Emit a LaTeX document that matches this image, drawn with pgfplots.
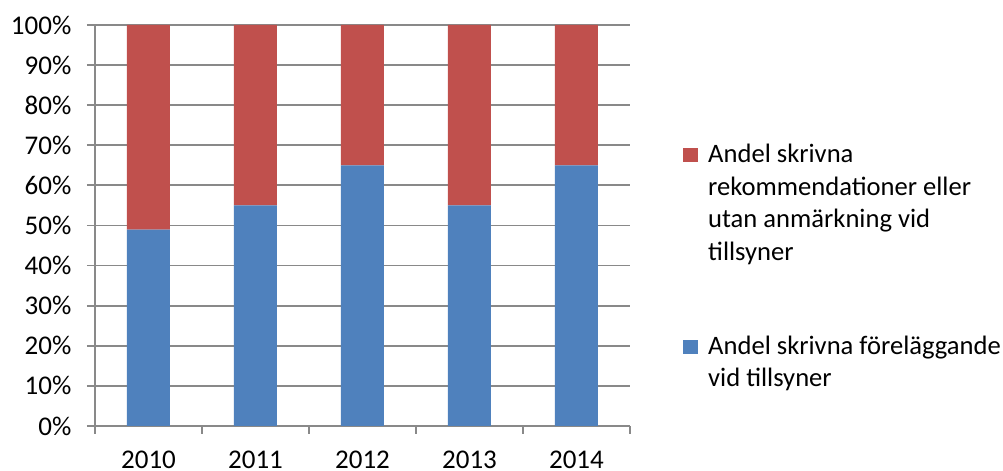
\documentclass[border=0pt]{standalone}
\usepackage{fontspec}
\setmainfont{Carlito}
\usepackage{pgfplots}
\pgfplotsset{compat=1.18}
\definecolor{barblue}{HTML}{4F81BD}
\definecolor{barred}{HTML}{C0504D}
\definecolor{gridgray}{HTML}{898989}

\begin{document}
\begin{tikzpicture}
\begin{axis}[
    scale only axis,
    width=267.5pt, height=200.5pt,
    ybar stacked, bar width=21.5pt,
    xmin=-0.5, xmax=4.5, ymin=0, ymax=100,
    xtick={-0.5,0.5,...,4.5}, xticklabels={},
    extra x ticks={0,1,2,3,4},
    extra x tick labels={2010,2011,2012,2013,2014},
    extra x tick style={major tick length=0pt, grid=none},
    ytick={0,10,...,100},
    yticklabel={\pgfmathprintnumber{\tick}\%},
    /pgf/number format/assume math mode=true,
    axis x line*=bottom, axis y line*=left,
    axis line style={gridgray, line width=0.9pt, -},
    ymajorgrids, grid style={gridgray, line width=0.9pt},
    tick align=outside, major tick length=4pt,
    tick style={gridgray, line width=0.9pt},
    tick label style={font=\fontsize{13.5}{16}\selectfont},
    yticklabel style={xshift=-4.3pt},
    xticklabel style={anchor=base, yshift=-21.3pt},
    legend style={at={(1,1)}, anchor=north west, xshift=26.2pt, yshift=-57.3pt,
        draw=none, fill=none, inner sep=0pt, row sep=81.2pt, column sep=3.2pt,
        font=\fontsize{13.3}{16.3}\selectfont,
        cells={anchor=base west, inner sep=0pt}},
    legend image code/.code={\fill[#1] (0pt,0pt) rectangle (7.5pt,7.2pt);},
    reverse legend,
]
\addplot[fill=barblue, draw=none] coordinates {(0,49) (1,55) (2,65) (3,55) (4,65)};
\addplot[fill=barred, draw=none] coordinates {(0,51) (1,45) (2,35) (3,45) (4,35)};
\legend{{\vtop{\hbox{Andel skrivna föreläggande}\hbox{vid tillsyner}}},{\vtop{\hbox{Andel skrivna}\hbox{rekommendationer eller}\hbox{utan anmärkning vid}\hbox{tillsyner}}}}
\end{axis}
\pgfresetboundingbox
\path[use as bounding box] (-47.5pt,-22.5pt) rectangle (454pt,213pt);
\end{tikzpicture}
\end{document}
